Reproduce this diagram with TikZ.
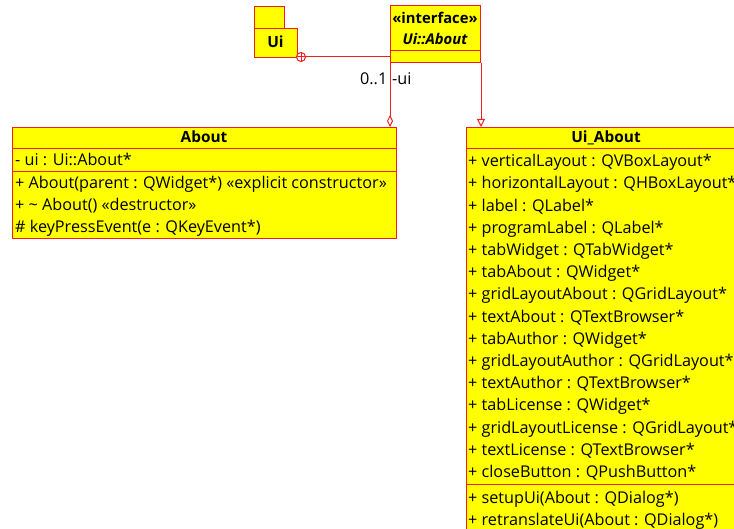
\documentclass[tikz,border=0pt]{standalone}
\usepackage{fontspec}
\setmainfont{Open Sans}
\usetikzlibrary{arrows.meta}
\definecolor{umlfill}{RGB}{255,255,0}
\definecolor{umlline}{RGB}{240,30,30}
\begin{document}
\begin{tikzpicture}[x=1pt,y=-1pt,
  box/.style={draw=umlline, fill=umlfill, line width=1pt, inner sep=0pt, anchor=north west},
  sep/.style={draw=umlline, line width=1pt},
  conn/.style={draw=umlline, line width=1pt},
  txt/.style={anchor=base west, inner sep=0pt, font=\fontsize{16.2}{19}\selectfont},
  hdr/.style={anchor=base, inner sep=0pt, font=\fontsize{15.4}{18}\selectfont\bfseries},
  ihdr/.style={anchor=base, inner sep=0pt, font=\fontsize{14.8}{18}\selectfont\bfseries},
  lbl/.style={inner sep=0pt, font=\fontsize{16.2}{19}\selectfont}]
\clip (0,0) rectangle (734,529);
\fill[white] (0,0) rectangle (734,529);

% package Ui
\node[box, minimum width=30pt, minimum height=22pt] (uitab) at (254,6) {};
\node[box, minimum width=43pt, minimum height=29pt] (ui) at (254,28) {};
\node[hdr] (uiname) at (275.5,48) {Ui};
\node[draw=umlline, fill=white, line width=1pt, circle, minimum size=9pt, inner sep=0pt] (nest) at (301,57) {};
\draw[umlline, line width=1pt] (nest.north) -- (nest.south) (nest.west) -- (nest.east);

% interface
\node[box, minimum width=90pt, minimum height=57pt] (iface) at (390,5) {};
\draw[sep] (390,51) -- (480,51);
\node[ihdr] (ifst) at (435,24) {«interface»};
\node[ihdr, font=\fontsize{14.8}{18}\selectfont\bfseries\itshape] (ifname) at (435,45) {Ui::About};

% About
\node[box, minimum width=384pt, minimum height=111pt] (about) at (12,127) {};
\draw[sep] (12,149) -- (396,149);
\draw[sep] (12,172) -- (396,172);
\node[hdr] (abouth) at (204,143) {About};
\node[txt] (a1) at (15,166) {- ui : Ui::About*};
\node[txt] (a2) at (15,188.5) {+ About(parent : QWidget*) «explicit constructor»};
\node[txt] (a3) at (15,211) {+ \char`\~{} About() «destructor»};
\node[txt] (a4) at (15,233) {\# keyPressEvent(e : QKeyEvent*)};

% Ui_About
\node[box, minimum width=285pt, minimum height=420pt] (uiabout) at (466,127) {};
\draw[sep] (466,149) -- (751,149);
\draw[sep] (466,484) -- (751,484);
\node[hdr] (uiabouth) at (606,143) {Ui\_About};
\foreach \t [count=\i from 0] in {
  {+ verticalLayout : QVBoxLayout*},
  {+ horizontalLayout : QHBoxLayout*},
  {+ label : QLabel*},
  {+ programLabel : QLabel*},
  {+ tabWidget : QTabWidget*},
  {+ tabAbout : QWidget*},
  {+ gridLayoutAbout : QGridLayout*},
  {+ textAbout : QTextBrowser*},
  {+ tabAuthor : QWidget*},
  {+ gridLayoutAuthor : QGridLayout*},
  {+ textAuthor : QTextBrowser*},
  {+ tabLicense : QWidget*},
  {+ gridLayoutLicense : QGridLayout*},
  {+ textLicense : QTextBrowser*},
  {+ closeButton : QPushButton*}}
  \node[txt] (u\i) at (468,166.7+22.2*\i) {\t};
\node[txt] (m1) at (468,503) {+ setupUi(About : QDialog*)};
\node[txt] (m2) at (468,525.5) {+ retranslateUi(About : QDialog*)};

% connectors
\draw[conn] (nest.east) -- (iface.west |- nest.east);
\draw[conn, -{Diamond[open, length=12pt, width=6pt]}] (iface.south west) -- (iface.south west |- about.north);
\draw[conn, -{Triangle[open, length=8pt, width=8pt]}] (iface.south east) -- (iface.south east |- uiabout.north);
\node[lbl, anchor=base east] (mult) at (387.5,85) {0..1};
\node[lbl, anchor=base west] (role) at (392,85) {-ui};
\end{tikzpicture}
\end{document}
